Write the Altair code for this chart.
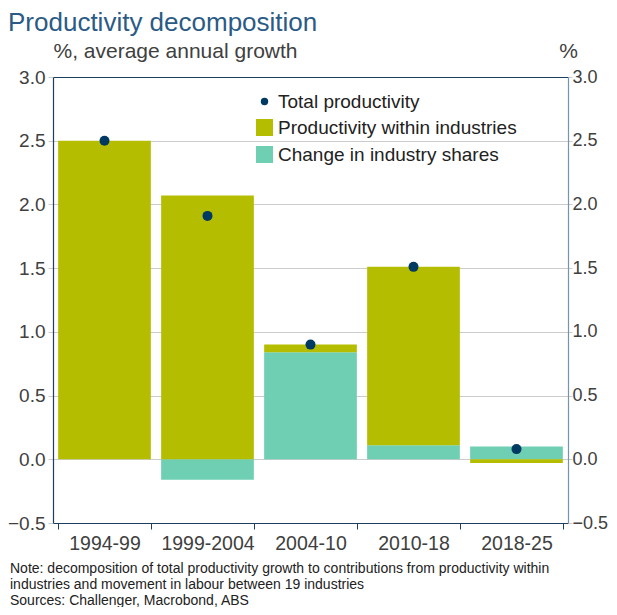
import altair as alt
import pandas as pd

periods = ["1994-99", "1999-2004", "2004-10", "2010-18", "2018-25"]
within = [2.50, 2.07, 0.06, 1.40, -0.03]
shares = [0.00, -0.16, 0.84, 0.11, 0.10]
total = [2.50, 1.91, 0.90, 1.51, 0.08]

bar_series = ["Productivity within industries", "Change in industry shares"]
bar_colors = ["#b5bd00", "#6ecfb3"]
dot_series = ["Total productivity"]
dot_colors = ["#003a63"]
y_ticks = [-0.5, 0.0, 0.5, 1.0, 1.5, 2.0, 2.5, 3.0]

note_text = ("Note: decomposition of total productivity growth to contributions from productivity within\n"
             "industries and movement in labour between 19 industries\n"
             "Sources: Challenger, Macrobond, ABS")

rows = []
for p, w, s in zip(periods, within, shares):
    rows.append({"period": p, "series": "Change in industry shares", "value": s, "ord": 0})
    rows.append({"period": p, "series": "Productivity within industries", "value": w, "ord": 1})
bars_df = pd.DataFrame(rows)
tot_df = pd.DataFrame({"period": periods, "series": "Total productivity", "value": total})
note_df = pd.DataFrame({"note": [note_text]})

FONT = "Liberation Sans"
NAVY = "#1c3f60"
GRID = "#cccccc"
LBL = "#404040"

yscale = alt.Scale(domain=[-0.5, 3.0], nice=False, zero=False)
xscale = alt.Scale(domain=periods, paddingInner=0.1, paddingOuter=0.05)

bar_legend = alt.Legend(
    title=None, orient="none", legendX=202, legendY=41,
    labelFontSize=19, labelFont=FONT, labelColor="#222222", labelLimit=400,
    rowPadding=7, symbolOpacity=1, symbolStrokeWidth=0, labelOffset=4,
    symbolType="square", symbolSize=289,
)
dot_legend = alt.Legend(
    title=None, orient="none", legendX=202, legendY=15,
    labelFontSize=19, labelFont=FONT, labelColor="#222222", labelLimit=400,
    symbolOpacity=1, symbolStrokeWidth=0, labelOffset=4,
    symbolType="circle", symbolSize=55,
)

bars = alt.Chart(bars_df).mark_bar().encode(
    x=alt.X("period:N", scale=xscale, sort=periods,
            axis=alt.Axis(orient="bottom", title=None, labelAngle=0, labelFontSize=19.5,
                          labelFont=FONT, labelColor=LBL, domainColor=NAVY, tickColor=NAVY,
                          tickSize=6, tickBand="extent", labelPadding=5, domainWidth=1.2)),
    y=alt.Y("value:Q", scale=yscale, stack="zero",
            axis=alt.Axis(orient="left", values=y_ticks, format=".1f",
                          title="%, average annual growth", titleAngle=0, titleAlign="left",
                          titleBaseline="alphabetic", titleX=0, titleY=-20,
                          titleFontSize=21, titleFont=FONT, titleFontWeight="normal", titleColor=LBL,
                          labelFontSize=19, labelFont=FONT, labelColor=LBL, labelPadding=3,
                          domainColor=NAVY, domainWidth=1.2, tickColor=GRID, tickSize=5,
                          grid=True, gridColor=GRID)),
    color=alt.Color("series:N", scale=alt.Scale(domain=bar_series, range=bar_colors), legend=bar_legend),
    order=alt.Order("ord:Q"),
)

dots = alt.Chart(tot_df).mark_circle(size=100, opacity=1).encode(
    x=alt.X("period:N", scale=xscale, sort=periods,
            axis=alt.Axis(orient="top", title=None, labels=False, ticks=False,
                          domainColor=NAVY, domainWidth=1.2)),
    y=alt.Y("value:Q", scale=yscale,
            axis=alt.Axis(orient="right", values=y_ticks, format=".1f",
                          title="%", titleAngle=0, titleAlign="center",
                          titleBaseline="alphabetic", titleX=0, titleY=-20,
                          titleFontSize=21, titleFont=FONT, titleFontWeight="normal", titleColor=LBL,
                          labelFontSize=18, labelFont=FONT, labelColor=LBL, labelPadding=0,
                          domainColor="#7694ab", domainWidth=1.2, tickColor=GRID, tickSize=4,
                          grid=False)),
    fill=alt.Fill("series:N", scale=alt.Scale(domain=dot_series, range=dot_colors), legend=dot_legend),
)

note = alt.Chart(note_df).mark_text(
    align="left", baseline="top", fontSize=14, font=FONT, color="#222222",
    lineBreak="\n", lineHeight=16,
).encode(x=alt.value(-43), y=alt.value(485), text="note:N")

chart = alt.layer(bars, dots, note).resolve_axis(x="independent", y="independent").properties(
    width=515, height=446,
    autosize=alt.AutoSizeParams(type="none"),
    padding={"left": 45, "top": 69, "right": 41, "bottom": 84},
    background="white",
    title=alt.TitleParams("Productivity decomposition", anchor="start", frame="group",
                          dx=-45, fontSize=26, font=FONT, fontWeight="normal",
                          color="#2a5b86", offset=4),
).configure_view(stroke=None)

chart.save("out.html", embed_options={"renderer": "svg", "actions": False})
